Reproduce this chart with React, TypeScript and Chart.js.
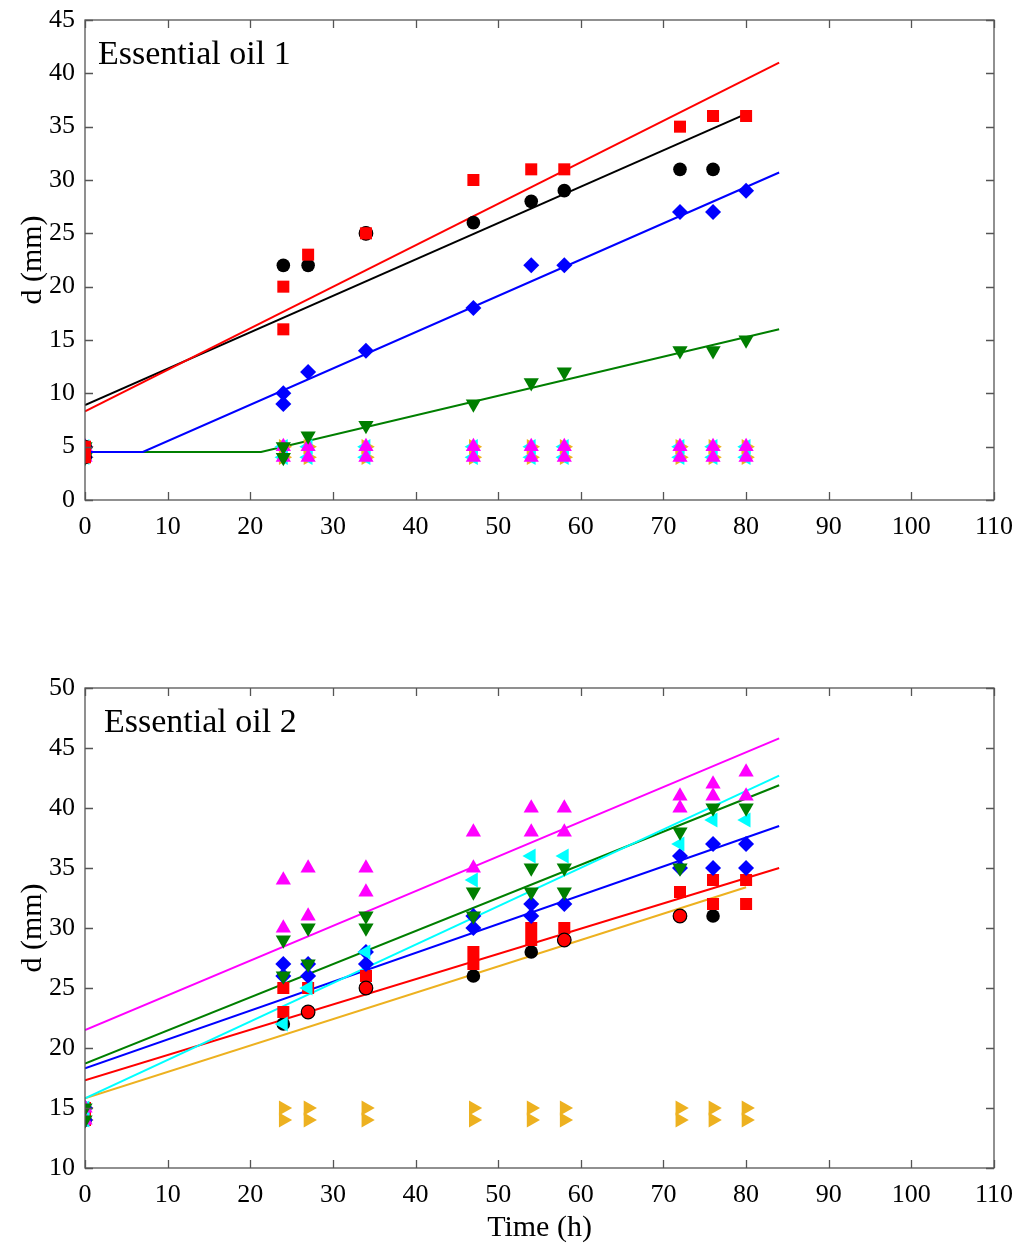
import React, { useEffect, useRef } from "react";
import { Chart, registerables } from "chart.js";
Chart.register(...registerables);

const times = [0, 24, 27, 34, 47, 54, 58, 72, 76, 80];
const xTickValues = [0, 10, 20, 30, 40, 50, 60, 70, 80, 90, 100, 110];
const oil1YTicks = [0, 5, 10, 15, 20, 25, 30, 35, 40, 45];
const oil2YTicks = [10, 15, 20, 25, 30, 35, 40, 45, 50];

// Essential oil 1 – measured diameters (two replicates)
const oil1BlackA = [5, 22, 22, 25, 26, 28, 29, 31, 31, null];
const oil1BlackB = [4, null, null, null, null, null, null, null, null, null];
const oil1RedA = [5, 20, 23, 25, 30, 31, 31, 35, 36, 36];
const oil1RedB = [4, 16, null, null, null, null, null, null, null, null];
const oil1RedCircle = [null, null, null, 25, null, null, null, null, null, null];
const oil1BlueA = [5, 10, 12, 14, 18, 22, 22, 27, 27, 29];
const oil1BlueB = [4, 9, null, null, null, null, null, null, null, null];
const oil1GreenA = [5, 5, 6, 7, 9, 11, 12, 14, 14, 15];
const oil1GreenB = [4, 4, null, null, null, null, null, null, null, null];
const oil1MagentaA = [5, 5, 5, 5, 5, 5, 5, 5, 5, 5];
const oil1MagentaB = [4, 4, 4, 4, 4, 4, 4, 4, 4, 4];
const oil1CyanA = [5, 5, 5, 5, 5, 5, 5, 5, 5, 5];
const oil1CyanB = [4, 4, 4, 4, 4, 4, 4, 4, 4, 4];
const oil1OrangeA = [5, 5, 5, 5, 5, 5, 5, 5, 5, 5];
const oil1OrangeB = [4, 4, 4, 4, 4, 4, 4, 4, 4, 4];

// Essential oil 1 – fitted lines
const oil1FitRedX = [0, 84];
const oil1FitRedY = [8.3, 41];
const oil1FitBlackX = [0, 80];
const oil1FitBlackY = [8.9, 36.2];
const oil1FitBlueX = [0, 7, 84];
const oil1FitBlueY = [4.5, 4.5, 30.7];
const oil1FitGreenX = [0, 21.3, 84];
const oil1FitGreenY = [4.5, 4.5, 16];

// Essential oil 2 – measured diameters
const oil2MagentaA = [15, 34, 35, 35, 38, 40, 40, 41, 42, 43];
const oil2MagentaB = [14, 30, 31, 33, 35, 38, 38, 40, 41, 41];
const oil2CyanA = [15, 22, 25, 28, 34, 36, 36, 37, 39, 39];
const oil2CyanB = [14, null, null, null, null, null, null, null, null, null];
const oil2GreenA = [15, 29, 30, 31, 33, 35, 35, 38, 40, 40];
const oil2GreenB = [14, 26, 27, 30, 31, 33, 33, 35, null, null];
const oil2BlueA = [15, 27, 27, 28, 31, 32, 32, 36, 37, 37];
const oil2BlueB = [14, 26, 26, 27, 30, 31, null, 35, 35, 35];
const oil2RedA = [15, 25, 25, 26, 28, 30, 30, 33, 34, 34];
const oil2RedB = [14, 23, null, null, 27, 29, null, null, 32, 32];
const oil2RedCircle = [null, null, 23, 25, null, null, 29, 31, null, null];
const oil2BlackA = [14, 22, 23, 25, 26, 28, 29, 31, 31, null];
const oil2OrangeA = [15, 15, 15, 15, 15, 15, 15, 15, 15, 15];
const oil2OrangeB = [14, 14, 14, 14, 14, 14, 14, 14, 14, 14];

// Essential oil 2 – fitted lines
const oil2FitMagentaX = [0, 84];
const oil2FitMagentaY = [21.5, 45.8];
const oil2FitCyanX = [0, 84];
const oil2FitCyanY = [15.8, 42.7];
const oil2FitGreenX = [0, 84];
const oil2FitGreenY = [18.7, 41.9];
const oil2FitBlueX = [0, 84];
const oil2FitBlueY = [18.3, 38.5];
const oil2FitRedX = [0, 84];
const oil2FitRedY = [17.3, 35];
const oil2FitOrangeX = [0, 80];
const oil2FitOrangeY = [15.8, 33.4];

const RED = "#ff0000";
const BLACK = "#000000";
const BLUE = "#0000ff";
const GREEN = "#007f00";
const MAGENTA = "#ff00ff";
const CYAN = "#00ffff";
const ORANGE = "#edb120";
const SERIF = "'Liberation Serif', 'Times New Roman', serif";

function pts(xs: number[], ys: (number | null)[]) {
  const out: { x: number; y: number }[] = [];
  xs.forEach((x, i) => {
    const y = ys[i];
    if (y !== null && y !== undefined) out.push({ x, y });
  });
  return out;
}

type Marker = { style: string; radius: number; rotation?: number };
const M = {
  circle: { style: "circle", radius: 6.8 } as Marker,
  square: { style: "rect", radius: 8.5 } as Marker,
  diamond: { style: "rectRot", radius: 8 } as Marker,
  down: { style: "triangle", radius: 8.8, rotation: 180 } as Marker,
  up: { style: "triangle", radius: 8.8 } as Marker,
  left: { style: "triangle", radius: 8.8, rotation: -90 } as Marker,
  right: { style: "triangle", radius: 8.8, rotation: 90 } as Marker,
};

function scatter(values: (number | null)[], color: string, m: Marker, border?: string) {
  return {
    data: pts(times, values),
    showLine: false,
    pointStyle: m.style,
    pointRadius: m.radius,
    pointRotation: m.rotation || 0,
    pointBackgroundColor: color,
    pointBorderColor: border || color,
    pointBorderWidth: border ? 1.2 : 0,
    backgroundColor: color,
    borderColor: color,
  };
}

function fit(xs: number[], ys: number[], color: string) {
  return {
    data: pts(xs, ys),
    showLine: true,
    pointRadius: 0,
    borderColor: color,
    borderWidth: 2,
    fill: false,
    tension: 0,
  };
}

function makePlugin(label: string, labelDx: number, yTicks: number[], showXTitle: boolean) {
  return {
    id: "matlabFrame",
    afterDraw(chart: any) {
      const { ctx, chartArea } = chart;
      const { left, right, top, bottom } = chartArea;
      const xs = chart.scales.x;
      const ys = chart.scales.y;
      ctx.save();
      ctx.strokeStyle = "#555555";
      ctx.lineWidth = 1.3;
      ctx.strokeRect(left, top, right - left, bottom - top);
      ctx.beginPath();
      const tl = 8;
      xTickValues.forEach((v) => {
        const px = Math.round(xs.getPixelForValue(v)) + 0.5;
        ctx.moveTo(px, bottom);
        ctx.lineTo(px, bottom - tl);
        ctx.moveTo(px, top);
        ctx.lineTo(px, top + tl);
      });
      yTicks.forEach((v) => {
        const py = Math.round(ys.getPixelForValue(v)) + 0.5;
        ctx.moveTo(left, py);
        ctx.lineTo(left + tl, py);
        ctx.moveTo(right, py);
        ctx.lineTo(right - tl, py);
      });
      ctx.stroke();
      ctx.fillStyle = "#000";
      ctx.font = `34px ${SERIF}`;
      ctx.textAlign = "left";
      ctx.textBaseline = "middle";
      ctx.fillText(label, left + labelDx, top + 35);
      ctx.save();
      ctx.translate(33, (top + bottom) / 2);
      ctx.rotate(-Math.PI / 2);
      ctx.textAlign = "center";
      ctx.font = `30px ${SERIF}`;
      ctx.fillText("d (mm)", 0, 0);
      ctx.restore();
      if (showXTitle) {
        ctx.textAlign = "center";
        ctx.font = `30px ${SERIF}`;
        ctx.fillText("Time (h)", (left + right) / 2, bottom + 60);
      }
      ctx.restore();
    },
  };
}

function makeConfig(
  datasets: any[],
  yMin: number,
  yMax: number,
  padTop: number,
  xAxisHeight: number,
  label: string,
  labelDx: number,
  yTicks: number[],
  showXTitle: boolean
) {
  return {
    type: "scatter" as const,
    data: { datasets },
    options: {
      animation: false,
      responsive: false,
      devicePixelRatio: 1,
      layout: { padding: { top: padTop, right: 24, left: 0, bottom: 0 } },
      plugins: { legend: { display: false }, tooltip: { enabled: false }, title: { display: false } },
      scales: {
        x: {
          type: "linear",
          min: 0,
          max: 110,
          grid: { display: false, drawTicks: false },
          border: { display: false },
          afterFit: (s: any) => {
            s.height = xAxisHeight;
            s.paddingLeft = 0;
            s.paddingRight = 0;
          },
          afterBuildTicks: (s: any) => {
            s.ticks = xTickValues.map((v) => ({ value: v }));
          },
          ticks: {
            autoSkip: false,
            maxRotation: 0,
            padding: 12,
            color: "#000",
            font: { family: SERIF, size: 26 },
          },
        },
        y: {
          type: "linear",
          min: yMin,
          max: yMax,
          grid: { display: false, drawTicks: false },
          border: { display: false },
          afterFit: (s: any) => {
            s.width = 85;
            s.paddingTop = 0;
            s.paddingBottom = 0;
          },
          afterBuildTicks: (s: any) => {
            s.ticks = yTicks.map((v) => ({ value: v }));
          },
          ticks: {
            autoSkip: false,
            padding: 10,
            color: "#000",
            font: { family: SERIF, size: 26 },
          },
        },
      },
    },
    plugins: [makePlugin(label, labelDx, yTicks, showXTitle)],
  };
}

function ChartCanvas({ config, width, height }: { config: () => any; width: number; height: number }) {
  const ref = useRef<HTMLCanvasElement | null>(null);
  useEffect(() => {
    if (!ref.current) return;
    const chart = new Chart(ref.current, config());
    return () => chart.destroy();
  }, []);
  return <canvas ref={ref} width={width} height={height} style={{ display: "block", width, height }} />;
}

const oil1Datasets = () => [
  scatter(oil1RedA, RED, M.square),
  scatter(oil1RedB, RED, M.square),
  scatter(oil1RedCircle, RED, M.circle, BLACK),
  scatter(oil1BlackA, BLACK, M.circle),
  scatter(oil1BlackB, BLACK, M.circle),
  scatter(oil1GreenA, GREEN, M.down),
  scatter(oil1GreenB, GREEN, M.down),
  scatter(oil1BlueA, BLUE, M.diamond),
  scatter(oil1BlueB, BLUE, M.diamond),
  scatter(oil1MagentaA, MAGENTA, M.up),
  scatter(oil1MagentaB, MAGENTA, M.up),
  scatter(oil1CyanA, CYAN, M.left),
  scatter(oil1CyanB, CYAN, M.left),
  scatter(oil1OrangeA, ORANGE, M.right),
  scatter(oil1OrangeB, ORANGE, M.right),
  fit(oil1FitRedX, oil1FitRedY, RED),
  fit(oil1FitBlackX, oil1FitBlackY, BLACK),
  fit(oil1FitBlueX, oil1FitBlueY, BLUE),
  fit(oil1FitGreenX, oil1FitGreenY, GREEN),
];

const oil2Datasets = () => [
  scatter(oil2GreenA, GREEN, M.down),
  scatter(oil2GreenB, GREEN, M.down),
  scatter(oil2MagentaA, MAGENTA, M.up),
  scatter(oil2MagentaB, MAGENTA, M.up),
  scatter(oil2CyanA, CYAN, M.left),
  scatter(oil2CyanB, CYAN, M.left),
  scatter(oil2BlueA, BLUE, M.diamond),
  scatter(oil2BlueB, BLUE, M.diamond),
  scatter(oil2RedCircle, RED, M.circle, BLACK),
  scatter(oil2RedA, RED, M.square),
  scatter(oil2RedB, RED, M.square),
  scatter(oil2BlackA, BLACK, M.circle),
  scatter(oil2OrangeA, ORANGE, M.right),
  scatter(oil2OrangeB, ORANGE, M.right),
  fit(oil2FitMagentaX, oil2FitMagentaY, MAGENTA),
  fit(oil2FitCyanX, oil2FitCyanY, CYAN),
  fit(oil2FitGreenX, oil2FitGreenY, GREEN),
  fit(oil2FitBlueX, oil2FitBlueY, BLUE),
  fit(oil2FitRedX, oil2FitRedY, RED),
  fit(oil2FitOrangeX, oil2FitOrangeY, ORANGE),
];

export default function App() {
  return (
    <div style={{ position: "absolute", left: 0, top: 0, width: 1018, height: 1243, background: "#fff" }}>
      <div style={{ position: "absolute", left: 0, top: 0 }}>
        <ChartCanvas
          width={1018}
          height={600}
          config={() => makeConfig(oil1Datasets(), 0, 45, 20, 100, "Essential oil 1", 13, oil1YTicks, false)}
        />
      </div>
      <div style={{ position: "absolute", left: 0, top: 600 }}>
        <ChartCanvas
          width={1018}
          height={643}
          config={() => makeConfig(oil2Datasets(), 10, 50, 88, 75, "Essential oil 2", 19, oil2YTicks, true)}
        />
      </div>
    </div>
  );
}
